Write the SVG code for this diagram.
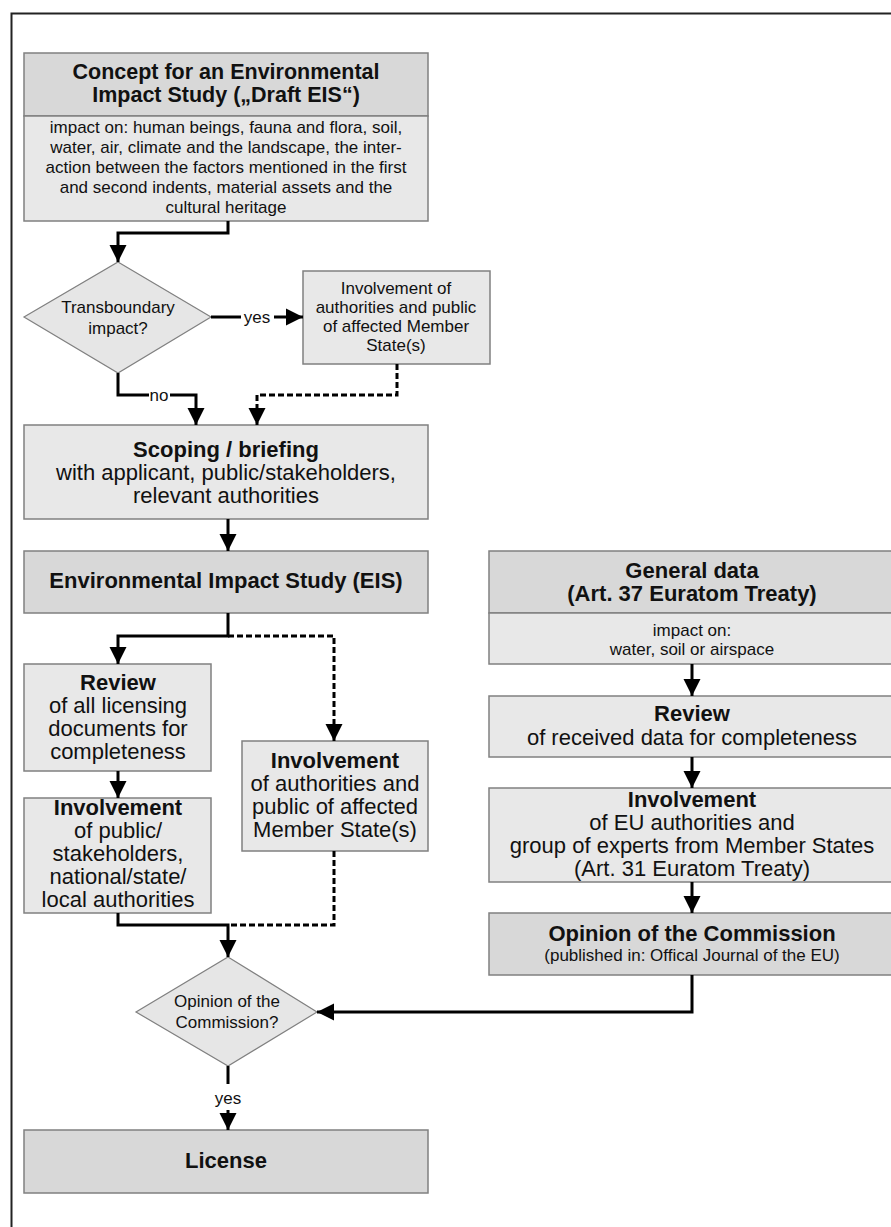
<svg xmlns="http://www.w3.org/2000/svg" width="891" height="1227" viewBox="0 0 891 1227">
<defs>
<style>
.hd{fill:#d8d8d8;stroke:#808080;stroke-width:1.5}
.bd{fill:#e8e8e8;stroke:#808080;stroke-width:1.5}
.dm{fill:#e6e6e6;stroke:#808080;stroke-width:1.2}
text{font-family:"Liberation Sans",Arial,sans-serif;fill:#111;text-anchor:middle}
.b{font-weight:bold;font-size:22px}
.r{font-size:22px}
.s{font-size:17px}
.t{font-weight:bold;font-size:21.5px}
.c{fill:none;stroke:#000;stroke-width:3}
.d{fill:none;stroke:#000;stroke-width:3;stroke-dasharray:6 3}
.ah{fill:#000}
</style>
<marker id="arr" markerUnits="userSpaceOnUse" markerWidth="18" markerHeight="18" viewBox="0 0 18 18" refX="17" refY="9" orient="auto">
<path d="M0,0.5 L17,9 L0,17.5 Z" class="ah"/>
</marker>
</defs>
<rect width="891" height="1227" fill="#fff"/>
<path d="M11.5,1227 V13.5 H891" fill="none" stroke="#222" stroke-width="2"/>

<g id="concept">
<rect class="hd" x="24" y="53" width="404" height="63"/>
<rect class="bd" x="24" y="116" width="404" height="105"/>
<text class="t" x="226" y="79">Concept for an Environmental</text>
<text class="t" x="226" y="102">Impact Study („Draft EIS“)</text>
<text class="s" x="226" y="133">impact on: human beings, fauna and flora, soil,</text>
<text class="s" x="226" y="153">water, air, climate and the landscape, the inter-</text>
<text class="s" x="226" y="173">action between the factors mentioned in the first</text>
<text class="s" x="226" y="193">and second indents, material assets and the</text>
<text class="s" x="226" y="213">cultural heritage</text>
</g>

<g id="transboundary">
<polygon class="dm" points="118,262 211,317 118,373 24,317"/>
<text class="s" x="118" y="313">Transboundary</text>
<text class="s" x="118" y="334">impact?</text>
</g>

<g id="involve-ms-top">
<rect class="bd" x="303" y="271" width="187" height="93"/>
<text class="s" x="396" y="294">Involvement of</text>
<text class="s" x="396" y="313">authorities and public</text>
<text class="s" x="396" y="332">of affected Member</text>
<text class="s" x="396" y="351">State(s)</text>
</g>

<g id="scoping">
<rect class="bd" x="24" y="425" width="404" height="94"/>
<text class="b" x="226" y="457">Scoping / briefing</text>
<text class="r" x="226" y="480">with applicant, public/stakeholders,</text>
<text class="r" x="226" y="503">relevant authorities</text>
</g>

<g id="eis">
<rect class="hd" x="24" y="551" width="404" height="62"/>
<text class="b" x="226" y="588">Environmental Impact Study (EIS)</text>
</g>

<g id="review">
<rect class="bd" x="24" y="664" width="187" height="107"/>
<text class="b" x="118" y="690">Review</text>
<text class="r" x="118" y="713">of all licensing</text>
<text class="r" x="118" y="736">documents for</text>
<text class="r" x="118" y="759">completeness</text>
</g>

<g id="involve-public">
<rect class="bd" x="24" y="798" width="187" height="115"/>
<text class="b" x="118" y="815">Involvement</text>
<text class="r" x="118" y="838">of public/</text>
<text class="r" x="118" y="861">stakeholders,</text>
<text class="r" x="118" y="884">national/state/</text>
<text class="r" x="118" y="907">local authorities</text>
</g>

<g id="involve-ms">
<rect class="bd" x="242" y="741" width="186" height="110"/>
<text class="b" x="335" y="768">Involvement</text>
<text class="r" x="335" y="791">of authorities and</text>
<text class="r" x="335" y="814">public of affected</text>
<text class="r" x="335" y="837">Member State(s)</text>
</g>

<g id="opinion-q">
<polygon class="dm" points="228,957 317,1012 228,1066 136,1012"/>
<text class="s" x="227" y="1007">Opinion of the</text>
<text class="s" x="227" y="1028">Commission?</text>
</g>

<g id="license">
<rect class="hd" x="24" y="1130" width="404" height="63"/>
<text class="b" x="226" y="1168">License</text>
</g>

<g id="general-data">
<rect class="hd" x="489" y="551" width="406" height="62"/>
<rect class="bd" x="489" y="613" width="406" height="51"/>
<text class="b" x="692" y="578">General data</text>
<text class="b" x="692" y="601">(Art. 37 Euratom Treaty)</text>
<text class="s" x="692" y="636">impact on:</text>
<text class="s" x="692" y="655">water, soil or airspace</text>
</g>

<g id="review-data">
<rect class="bd" x="489" y="696" width="406" height="61"/>
<text class="b" x="692" y="721">Review</text>
<text class="r" x="692" y="745">of received data for completeness</text>
</g>

<g id="involve-eu">
<rect class="bd" x="489" y="788" width="406" height="94"/>
<text class="b" x="692" y="807">Involvement</text>
<text class="r" x="692" y="830">of EU authorities and</text>
<text class="r" x="692" y="853">group of experts from Member States</text>
<text class="r" x="692" y="876">(Art. 31 Euratom Treaty)</text>
</g>

<g id="opinion">
<rect class="hd" x="489" y="913" width="406" height="62"/>
<text class="b" x="692" y="941">Opinion of the Commission</text>
<text class="s" x="692" y="961">(published in: Offical Journal of the EU)</text>
</g>

<g id="connectors">
<path class="c" d="M228,221 V233 H118 V262" marker-end="url(#arr)"/>
<path class="c" d="M211,317 H241"/>
<path class="c" d="M274,317 H303" marker-end="url(#arr)"/>
<text class="s" x="257" y="323">yes</text>
<path class="d" d="M397,364 V395 H257 V425" marker-end="url(#arr)"/>
<path class="c" d="M118,373 V395 H149"/>
<path class="c" d="M170,395 H196 V425" marker-end="url(#arr)"/>
<text class="s" x="159" y="401">no</text>
<path class="c" d="M228,519 V551" marker-end="url(#arr)"/>
<path class="c" d="M228,613 V636 H118 V664" marker-end="url(#arr)"/>
<path class="d" d="M228,636 H334 V741" marker-end="url(#arr)"/>
<path class="c" d="M118,771 V798" marker-end="url(#arr)"/>
<path class="c" d="M118,913 V925 H228 V957" marker-end="url(#arr)"/>
<path class="d" d="M334,851 V925 H228"/>
<path class="c" d="M228,1066 V1084"/>
<text class="s" x="228" y="1104">yes</text>
<path class="c" d="M228,1110 V1130" marker-end="url(#arr)"/>
<path class="c" d="M692,664 V696" marker-end="url(#arr)"/>
<path class="c" d="M692,757 V788" marker-end="url(#arr)"/>
<path class="c" d="M692,882 V913" marker-end="url(#arr)"/>
<path class="c" d="M692,975 V1012 H317" marker-end="url(#arr)"/>
</g>
</svg>
